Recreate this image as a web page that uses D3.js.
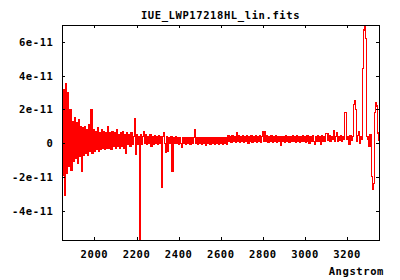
<!DOCTYPE html>
<html>
  <head>
    <meta charset="UTF-8">
    <script src="https://d3js.org/d3.v7.min.js"></script>
    <style>
        body {
            margin: 0;
            background: #fff;
        }
        text {
            font-family: 'DejaVu Sans Mono', monospace;
            font-weight: bold;
            font-size: 10.5px;
            letter-spacing: 0.6px;
            fill: #000;
        }
        .frame, .tick {
            stroke: #000;
            stroke-width: 1;
            fill: none;
            shape-rendering: crispEdges;
        }
        .spectrum {
            stroke: #ff0000;
            stroke-width: 1.2;
            fill: none;
            shape-rendering: crispEdges;
        }
    </style>
    <script>
        // wavelength grid like the FITS header (start, step in Angstrom)
        let crval1 = 1846, cdelt1 = 5
        // flux, in units of 1e-11
        let flux = [
            2.1, -1.9, 3.2, -3.1, 3.5, -1.8, 3.0, -1.4, 2.0, -1.6,
            1.3, -1.1, 1.5, -0.9, 1.2, -1.2, 1.4, -0.8, 1.0, -1.7,
            0.9, -0.7, 1.0, -0.6, 0.8, -0.7, 1.1, -0.5, 2.0, -0.6,
            0.8, -0.5, 0.7, -0.4, 0.9, -0.5, 0.6, -0.4, 0.8, -0.3,
            0.7, -0.4, 0.6, -0.3, 1.0, -0.3, 0.6, -0.4, 0.7, -0.2,
            0.6, -0.3, 0.8, -0.2, 0.5, -0.3, 0.6, -0.2, 0.7, -0.3,
            0.5, -0.6, 0.6, -0.1, 0.5, -0.2, 0.6, -0.1, 0.4, 1.45,
            -0.65, 0.5, -0.1, 0.4, -5.74, 0.5, -0.1, 0.4, 0.7, 0.0,
            0.5, -0.1, 0.4, 0.0, 0.5, -0.2, 0.4, -0.1, 0.45, 0.0,
            0.4, -0.1, 0.45, 0.0, 0.4, -2.6, 0.4, 0.63, 0.0, -0.53,
            0.4, -0.5, 0.35, 0.0, 0.4, -1.65, 0.35, 0.0, 0.4, 0.0,
            0.3, -0.05, 0.35, 0.0, -0.25, 0.3, 0.0, 0.35, -0.05, 0.3,
            0.0, 0.35, -0.05, 0.3, 0.0, 0.35, 0.8, 0.0, 0.3, -0.05,
            0.3, 0.0, 0.35, -0.05, 0.3, 0.0, 0.35, -0.15, 0.3, 0.0,
            0.35, -0.05, 0.3, 0.0, 0.35, -0.1, 0.3, 0.0, 0.35, -0.05,
            0.3, 0.0, 0.35, -0.1, 0.3, 0.0, 0.35, -0.05, 0.45, 0.1,
            0.4, 0.05, 0.45, 0.1, 0.4, 0.05, 0.63, 0.1, 0.45, 0.05,
            0.4, 0.1, 0.45, 0.05, 0.4, 0.1, 0.45, 0.0, 0.4, 0.1,
            0.45, 0.05, 0.4, 0.1, 0.45, 0.05, 0.4, 0.1, 0.45, 0.05,
            0.4, 0.69, 0.1, 0.69, 0.1, 0.45, 0.05, 0.4, 0.1, 0.45,
            0.05, 0.4, 0.1, 0.45, 0.05, 0.4, 0.1, 0.4, -0.15, 0.4,
            0.1, 0.4, 0.05, 0.45, 0.1, 0.4, 0.05, 0.4, 0.1, 0.45,
            0.1, 0.4, 0.05, 0.45, 0.1, 0.4, 0.05, 0.4, 0.1, 0.45,
            0.1, 0.4, 0.05, 0.45, 0.1, 0.0, 0.4, 0.1, 0.45, 0.1,
            -0.1, 0.4, 0.1, 0.45, 0.1, 0.4, -0.1, 0.45, 0.1, 0.4,
            0.1, 0.55, 0.55, 0.15, 0.45, 0.1, 0.4, 0.2, 0.73, 0.1,
            0.4, 0.65, 0.1, 0.4, 0.15, 0.45, 0.1, 0.4, 0.2, 1.8,
            1.8, 0.2, 0.4, -0.1, 0.45, 0.15, 0.4, 2.27, 2.5, 2.0,
            0.1, 0.45, 0.7, 0.0, 0.4, 0.2, 4.4, 6.7, 7.0, 6.2,
            0.4, 0.2, -0.2, 0.5, -2.0, -2.73, -2.4, 1.8, 2.4, 2.2, 0.6, 0.15
        ]
        let xTicks = [2000, 2200, 2400, 2600, 2800, 3000, 3200]
        let yTicks = [-4e-11, -2e-11, 0, 2e-11, 4e-11, 6e-11]
        let title = 'IUE_LWP17218HL_lin.fits'
        let xLabel = 'Angstrom'

        let draw = () => {
            let svgWidth = 400, svgHeight = 280
            let margin = {top: 25, right: 21, bottom: 40, left: 62}
            let width = svgWidth - margin.left - margin.right
            let height = svgHeight - margin.top - margin.bottom

            let data = flux.map((f, i) => ({w: crval1 + i * cdelt1, f: f * 1e-11}))

            let x = d3.scaleLinear().domain(d3.extent(data, d => d.w)).range([0, width])
            let y = d3.scaleLinear().domain(d3.extent(data, d => d.f)).range([height, 0])

            let svg = d3.select('body').append('svg')
                .attr('width', svgWidth)
                .attr('height', svgHeight)

            svg.append('text')
                .attr('x', margin.left + width / 2)
                .attr('y', 18.5)
                .attr('text-anchor', 'middle')
                .text(title)

            let g = svg.append('g')
                .attr('transform', `translate(${margin.left}, ${margin.top})`)

            g.append('clipPath').attr('id', 'plotClip')
                .append('rect')
                .attr('width', width)
                .attr('height', height)

            // histogram-like steps give the dense, pixel look of the original
            let line = d3.line()
                .x(d => x(d.w))
                .y(d => y(d.f))
                .curve(d3.curveStep)

            g.append('path')
                .datum(data)
                .attr('class', 'spectrum')
                .attr('clip-path', 'url(#plotClip)')
                .attr('d', line)

            // ticks point inwards and are mirrored, gnuplot style
            let tl = 3
            xTicks.forEach(t => {
                let px = Math.round(x(t)) + 0.5
                g.append('line').attr('class', 'tick')
                    .attr('x1', px).attr('x2', px).attr('y1', height).attr('y2', height - tl)
                g.append('line').attr('class', 'tick')
                    .attr('x1', px).attr('x2', px).attr('y1', 0).attr('y2', tl)
                g.append('text')
                    .attr('x', x(t))
                    .attr('y', height + 18)
                    .attr('text-anchor', 'middle')
                    .text(t)
            })

            yTicks.forEach(t => {
                let py = Math.round(y(t)) + 0.5
                g.append('line').attr('class', 'tick')
                    .attr('x1', 0).attr('x2', tl).attr('y1', py).attr('y2', py)
                g.append('line').attr('class', 'tick')
                    .attr('x1', width).attr('x2', width - tl).attr('y1', py).attr('y2', py)
                g.append('text')
                    .attr('x', -8.5)
                    .attr('y', y(t) + 4)
                    .attr('text-anchor', 'end')
                    .text(t === 0 ? '0' : `${Math.round(t / 1e-11)}e-11`)
            })

            g.append('rect')
                .attr('class', 'frame')
                .attr('x', 0.5)
                .attr('y', 0.5)
                .attr('width', width)
                .attr('height', height)

            svg.append('text')
                .attr('x', 384)
                .attr('y', 275)
                .attr('text-anchor', 'end')
                .text(xLabel)
        }

        document.addEventListener('DOMContentLoaded', draw)
    </script>
  </head>
  <body>
  </body>
</html>
